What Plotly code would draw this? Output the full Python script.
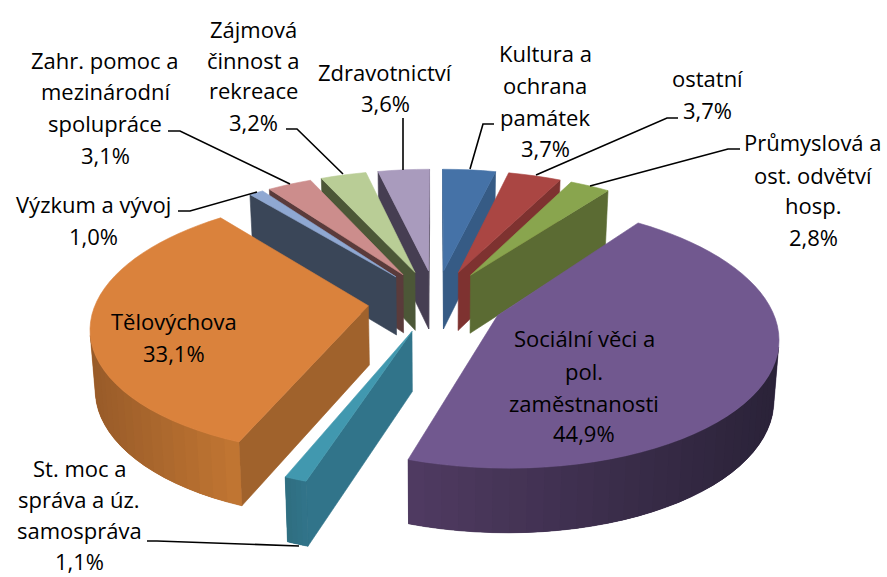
import numpy as np
import plotly.graph_objects as go

# --- data (clockwise from 12 o'clock) ---
categories = ["Kultura a ochrana památek", "ostatní", "Průmyslová a ost. odvětví hosp.",
              "Sociální věci a pol. zaměstnanosti", "St. moc a správa a úz. samospráva",
              "Tělovýchova", "Výzkum a vývoj", "Zahr. pomoc a mezinárodní spolupráce",
              "Zájmová činnost a rekreace", "Zdravotnictví"]
values = [3.7, 3.7, 2.8, 44.9, 1.1, 33.1, 1.0, 3.1, 3.2, 3.6]

# --- styles ---
top_colors = ["#4572A7", "#AA4643", "#89A54E", "#71588F", "#4198AF", "#DA823C",
              "#8FA8D2", "#CC8D8C", "#B9CD96", "#A99BBD"]
cut_colors = ["#365B85", "#7E3230", "#5B6B33", "#4D3A60", "#31748A", "#A0622C",
              "#3A4658", "#5A3B3B", "#4C5737", "#463E52"]
wall_a = ["#365B85", "#7E3230", "#5B6B33", "#2A2238", "#31748A", "#C27632",
          "#3A4658", "#5A3B3B", "#4C5737", "#463E52"]
wall_b = ["#365B85", "#7E3230", "#5B6B33", "#503B62", "#2F6E80", "#985B29",
          "#3A4658", "#5A3B3B", "#4C5737", "#463E52"]
draw_order = [0, 1, 2, 9, 8, 7, 6, 5, 3, 4]

# --- camera ---
CX, CY = 436.0, 301.0
R, EXPLODE, TILT, PERSP, DEPTH = 272.0, 68.0, 0.46, 0.000547, 59.0


def project(u, v, bottom=False):
    f = 1.0 / (1.0 + PERSP * v)
    x = CX + u * f
    y = CY - TILT * v * f
    if bottom:
        x = CX + (x - CX) * 0.985
        y = y + DEPTH * f ** 0.5
    return x, y


def hex2rgb(c):
    return np.array([int(c[i:i + 2], 16) for i in (1, 3, 5)], float)


def mix(a, b, t):
    m = hex2rgb(a) * (1 - t) + hex2rgb(b) * t
    return "rgb(%d,%d,%d)" % tuple(m.round())


fig = go.Figure()


def poly(xs, ys, color, name, width=0.6):
    fig.add_trace(go.Scatter(x=[float(v) for v in xs] + [float(xs[0])],
                             y=[float(v) for v in ys] + [float(ys[0])], mode="lines",
                             fill="toself", fillcolor=color,
                             line=dict(color=color, width=width, simplify=False), hoverinfo="text",
                             text=name, showlegend=False))


total = sum(values)
edges = np.concatenate([[0], np.cumsum(values)]) / total * 2 * np.pi

for i in draw_order:
    a0, a1 = edges[i], edges[i + 1]
    mid = (a0 + a1) / 2
    ou, ov = EXPLODE * np.sin(mid), EXPLODE * np.cos(mid)
    n = max(4, int((a1 - a0) / np.radians(3)))
    th = np.linspace(a0, a1, n + 1)
    ru, rv = ou + R * np.sin(th), ov + R * np.cos(th)
    pu = np.concatenate([[ou], ru])
    pv = np.concatenate([[ov], rv])
    tx, ty = project(pu, pv)
    bx, by = project(pu, pv, True)
    name = f"{categories[i]}: {values[i]}%"
    m = len(pu)
    front = []
    for j in range(m):
        k = (j + 1) % m
        qx = [tx[j], tx[k], bx[k], bx[j]]
        qy = [ty[j], ty[k], by[k], by[j]]
        area = sum(qx[q] * qy[(q + 1) % 4] - qx[(q + 1) % 4] * qy[q] for q in range(4))
        if area >= 0:
            continue
        if j == 0 or j == m - 1:
            poly(qx, qy, cut_colors[i], name)
        else:
            front.append(j)
    if front:
        # whole wall first in its middle colour, so no seams show between the strips
        idx = front + [front[-1] + 1]
        poly(list(tx[idx]) + list(bx[idx][::-1]), list(ty[idx]) + list(by[idx][::-1]),
             mix(wall_a[i], wall_b[i], 0.5), name)
        lo, hi = min(tx[1:]), max(tx[1:])
        for j in front:
            xm = (tx[j] + tx[j + 1]) / 2
            col = mix(wall_b[i], wall_a[i], (xm - lo) / max(hi - lo, 1))
            k = min(j + 2, m - 1)  # each strip overlaps the next one
            poly([tx[j], tx[j + 1], tx[k], bx[k], bx[j + 1], bx[j]],
                 [ty[j], ty[j + 1], ty[k], by[k], by[j + 1], by[j]], col, name, width=0)
    poly(tx, ty, top_colors[i], name)

# --- leader lines and label placement ---
leaders = [
    [(494, 124), (483, 124), (470, 169)],
    [(678, 118), (667, 118), (536, 175)],
    [(740, 149), (728, 149), (590, 186)],
    [(403, 118), (403, 170)],
    [(286, 129), (297, 129), (343, 174)],
    [(168, 131), (180, 131), (290, 184)],
    [(178, 211), (190, 211), (257, 192)],
    [(147, 541), (157, 541), (299, 546)],
]
for pts in leaders:
    fig.add_shape(type="path", path="M " + " L ".join(f"{x},{y}" for x, y in pts),
                  line=dict(color="#000000", width=1.6), xref="x", yref="y")

label_lines = [
    (545, ["Kultura a", "ochrana", "památek", "3,7%"], [53, 85, 117, 148]),
    (707, ["ostatní", "3,7%"], [78, 110]),
    (813, ["Průmyslová a", "ost. odvětví", "hosp.", "2,8%"], [142, 175, 205, 237]),
    (584, ["Sociální věci a", "pol.", "zaměstnanosti", "44,9%"], [338, 371, 403, 433]),
    (79, ["St. moc a", "správa a úz.", "samospráva", "1,1%"], [468, 499, 530, 561]),
    (174, ["Tělovýchova", "33,1%"], [321, 353]),
    (93, ["Výzkum a vývoj", "1,0%"], [204, 236]),
    (105, ["Zahr. pomoc a", "mezinárodní", "spolupráce", "3,1%"], [60, 91, 123, 155]),
    (253, ["Zájmová", "činnost a", "rekreace", "3,2%"], [29, 60, 90, 122]),
    (385, ["Zdravotnictví", "3,6%"], [72, 103]),
]
for x, lines, ys in label_lines:
    for line, y in zip(lines, ys):
        fig.add_annotation(x=x, y=y, text=line, showarrow=False, xanchor="center", yanchor="middle",
                           font=dict(family="Open Sans", size=22, color="#000000"))

fig.update_layout(width=887, height=577, margin=dict(l=0, r=0, t=0, b=0),
                  paper_bgcolor="white", plot_bgcolor="white", showlegend=False,
                  xaxis=dict(range=[0, 887], visible=False, fixedrange=True),
                  yaxis=dict(range=[577, 0], visible=False, fixedrange=True))
fig.write_html("out.html", config={"displayModeBar": False},
               post_script="document.body.style.margin='0';document.body.style.overflow='hidden';")
